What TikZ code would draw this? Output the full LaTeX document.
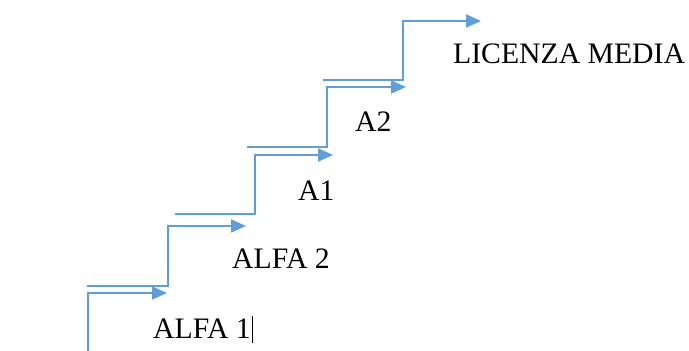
\documentclass[tikz,border=0pt]{standalone}
\usepackage{fontspec}
\setmainfont{Liberation Serif}
\usetikzlibrary{arrows.meta}
\definecolor{stepblue}{RGB}{95,158,216}
\tikzset{
  stair/.style={draw=stepblue, line width=2pt, -{Triangle[length=15pt,width=13pt]}},
  lbl/.style={anchor=base west, inner sep=0pt, font=\fontsize{29.7pt}{32pt}\selectfont, text=black}
}
\begin{document}
\begin{tikzpicture}[x=1pt,y=-1pt]
\useasboundingbox (0,0) rectangle (689,351);
% step 1
\draw[stair] (88,352) -- (88,293) -- (167,293);
% step 2
\draw[stair] (87,286) -- (168,286) -- (168,226) -- (246,226);
% step 3
\draw[stair] (175,214) -- (255,214) -- (255,155) -- (333,155);
% step 4
\draw[stair] (247,147) -- (327,147) -- (327,87) -- (406,87);
% step 5
\draw[stair] (323,80) -- (403,80) -- (403,21) -- (481,21);
% labels
\node[lbl] (alfa1) at (153,338) {ALFA 1};
\node[lbl] (alfa2) at (232,268) {ALFA 2};
\node[lbl] (a1) at (298,200) {A1};
\node[lbl] (a2) at (355,131) {A2};
\node[lbl] (lic) at (453,63) {LICENZA MEDIA};
% text cursor
\coordinate (curtop) at (252,316);
\coordinate (curbot) at (252,343);
\draw[black, line width=1pt] (curtop) -- (curbot);
\end{tikzpicture}
\end{document}
